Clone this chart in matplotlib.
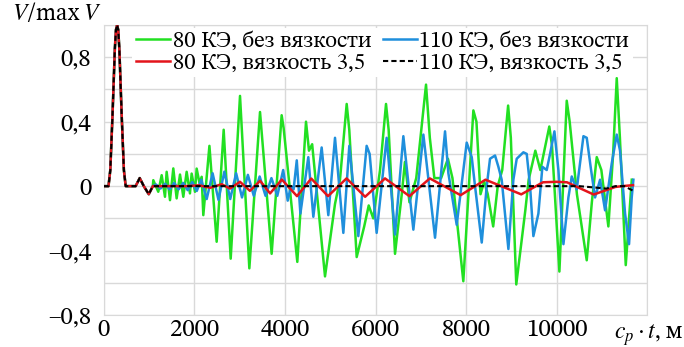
import matplotlib
matplotlib.use("Agg")
import matplotlib.pyplot as plt

plt.rcParams['font.family'] = ['STIX Two Text', 'Liberation Serif', 'DejaVu Serif']
plt.rcParams['mathtext.fontset'] = 'stix'

# --- данные ---
# общий импульс в начале + небольшой выброс
pulse_t = [0, 100, 140, 190, 240, 265, 290, 315, 340, 390, 440, 480, 700, 790, 880, 990, 1080]
pulse_v = [0, 0, 0.1, 0.45, 0.85, 0.97, 1.0, 0.97, 0.85, 0.45, 0.1, 0, 0, 0.05, 0, -0.05, 0]

# 80 КЭ, без вязкости
green_t = [1090, 1200, 1275, 1348, 1385, 1459, 1532, 1606, 1680, 1753, 1827, 1900, 1937,
           2011, 2048, 2110, 2159, 2195, 2330, 2490, 2645, 2800, 3006, 3212, 3448, 3705,
           3926, 3970, 4272, 4464, 4530, 4600, 4884, 5105, 5215, 5363, 5420, 5584, 5750,
           5850, 5950, 6100, 6232, 6290, 6431, 6580, 6650, 6750, 6900, 7116, 7200, 7300,
           7450, 7600, 7700, 7940, 8162, 8230, 8320, 8400, 8480, 8600, 8700, 8800, 8930,
           8990, 9110, 9310, 9384, 9531, 9642, 9840, 9900, 10063, 10225, 10290, 10450,
           10667, 10780, 10888, 10990, 11145, 11250, 11330, 11400, 11529, 11662]
green_v = [0.037, -0.035, 0.068, -0.066, 0.089, -0.087, 0.11, -0.076, 0.072, -0.066, 0.089,
           -0.045, 0.078, -0.035, 0.109, 0.02, 0.058, -0.18, 0.25, -0.345, 0.35, -0.45,
           0.56, -0.51, 0.46, -0.42, 0.44, 0.36, -0.47, 0.40, 0.22, 0.26, -0.56, -0.11,
           0.04, 0.51, 0.35, -0.44, -0.25, -0.12, -0.2, 0.1, 0.51, 0.35, -0.42, -0.05,
           0.15, -0.1, 0.05, 0.63, 0.3, 0.05, 0.05, 0.17, 0.05, -0.59, 0.47, 0.40, -0.05,
           0.03, -0.05, -0.25, 0.0, 0.1, 0.50, 0.3, -0.61, -0.15, 0.04, 0.22, 0.10, 0.37,
           0.25, -0.53, 0.53, 0.4, -0.05, -0.46, -0.1, 0.18, 0.1, -0.25, 0.2, 0.67, 0.3,
           -0.49, 0.04]

# 110 КЭ, без вязкости
blue_t = [1150, 1250, 1350, 1450, 1550, 1650, 1750, 1850, 1950, 2050, 2150, 2270, 2400,
          2530, 2660, 2790, 2920, 3050, 3180, 3310, 3440, 3570, 3700, 3830, 3960, 4060,
          4130, 4190, 4260, 4340, 4515, 4626, 4810, 4957, 5105, 5289, 5421, 5620, 5804,
          5870, 6025, 6246, 6431, 6615, 6836, 7057, 7315, 7536, 7610, 7794, 8015, 8126,
          8199, 8347, 8457, 8530, 8641, 8715, 8788, 8936, 9046, 9120, 9267, 9341, 9415,
          9488, 9599, 9687, 9783, 9857, 9953, 10041, 10152, 10262, 10336, 10446, 10594,
          10667, 10763, 10851, 10962, 11072, 11219, 11330, 11403, 11514, 11602, 11661, 11698]
blue_v = [0.01, -0.015, 0.015, -0.02, 0.02, -0.02, 0.02, -0.025, 0.025, -0.03, 0.04, -0.08,
          0.08, -0.085, 0.09, -0.08, 0.08, -0.07, 0.07, -0.06, 0.06, -0.06, 0.05, -0.06,
          0.10, -0.09, 0.0, -0.02, 0.16, -0.17, 0.18, -0.19, 0.24, -0.18, 0.30, -0.29,
          0.25, -0.31, 0.25, 0.2, -0.29, 0.30, -0.30, 0.31, -0.27, 0.32, -0.32, 0.34,
          0.08, -0.24, 0.27, 0.18, 0.0, -0.35, 0.0, 0.17, 0.19, 0.12, 0.04, -0.39, 0.04,
          0.17, 0.21, 0.20, 0.0, -0.31, -0.17, 0.12, 0.10, 0.20, 0.34, 0.10, -0.36, -0.07,
          0.06, -0.02, 0.31, 0.30, 0.10, -0.07, 0.04, -0.15, 0.14, 0.32, 0.22, -0.17,
          -0.36, -0.07, 0.04]

# 80 КЭ, вязкость 3,5
red_t = [1800, 2100, 2350, 2600, 2785, 3005, 3225, 3450, 3670, 3930, 4265, 4580, 4950,
         5360, 5770, 6210, 6750, 7200, 7880, 8430, 9220, 9700, 10000, 10230, 10820, 11300,
         11450, 11690]
red_v = [0, 0.005, -0.01, 0.012, -0.015, 0.027, -0.029, 0.033, -0.045, 0.041, -0.062, 0.047,
         -0.062, 0.048, -0.066, 0.048, -0.062, 0.048, -0.056, 0.04, -0.051, 0.024, 0.027,
         0.024, -0.052, -0.005, 0.0, 0.006]

# 110 КЭ, вязкость 3,5
black_t = [10500, 10900, 11100, 11300, 11500, 11700]
black_v = [0, -0.01, -0.015, 0.0, 0.0, -0.03]

labels = ['80 КЭ, без вязкости', '110 КЭ, без вязкости',
          '80 КЭ, вязкость 3,5', '110 КЭ, вязкость 3,5']
xticks = [0, 2000, 4000, 6000, 8000, 10000, 12000]
xtick_labels = ['0', '2000', '4000', '6000', '8000', '10000', '']
yticks = [-0.8, -0.6, -0.4, -0.2, 0, 0.2, 0.4, 0.6, 0.8, 1.0]
ytick_labels = ['–0,8', '', '–0,4', '', '0', '', '0,4', '', '0,8', '']

fig = plt.figure(figsize=(6.84, 3.47), dpi=100)
ax = fig.add_axes([0.152, 0.092, 0.794, 0.836])

kw = dict(lw=1.8, solid_joinstyle='round')
l1, = ax.plot(pulse_t + green_t, pulse_v + green_v, color='#22e022', zorder=3, **kw)
l2, = ax.plot(pulse_t + blue_t, pulse_v + blue_v, color='#1f8fdc', zorder=4, **kw)
l3, = ax.plot(pulse_t + red_t, pulse_v + red_v, color='#e3141b', zorder=5, **kw)
l4, = ax.plot(pulse_t + black_t, pulse_v + black_v, color='black', lw=1.5,
              ls=(0, (2.5, 1.5)), zorder=6)

ax.set_xlim(0, 12000)
ax.set_ylim(-0.8, 1.0)
ax.set_xticks(xticks)
ax.set_xticklabels(xtick_labels)
ax.set_yticks(yticks)
ax.set_yticklabels(ytick_labels)
ax.tick_params(length=0, labelsize=18)
ax.tick_params(axis='y', pad=9)
ax.tick_params(axis='x', pad=3)
ax.grid(True, color='#d9d9d9', lw=1)
ax.set_axisbelow(True)
for s in ax.spines.values():
    s.set_color('#d9d9d9')

ax.text(0.018, 0.962, r'$V$/max $V$', transform=fig.transFigure, fontsize=17,
        ha='left', va='center')
ax.text(0.998, 0.035, r'$c_p\cdot t$, м', transform=fig.transFigure, fontsize=17,
        ha='right', va='center')

leg = ax.legend([l1, l3, l2, l4], [labels[0], labels[2], labels[1], labels[3]],
                ncol=2, loc='upper right', bbox_to_anchor=(0.995, 1.03), fontsize=16.5,
                frameon=True, framealpha=1, edgecolor='none', handlelength=1.5,
                handletextpad=0.1, columnspacing=0.5, labelspacing=0.02,
                borderpad=0.15)
leg.set_zorder(10)

fig.savefig('out.png', dpi=100)
